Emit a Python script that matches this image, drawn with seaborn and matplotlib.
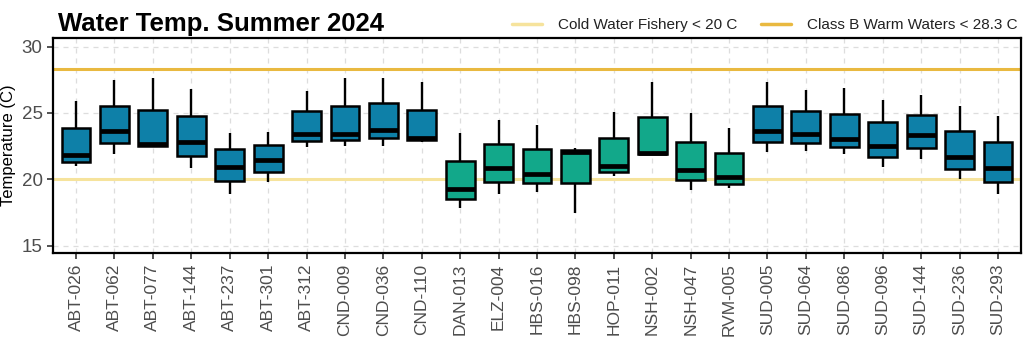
import numpy as np
import pandas as pd
import matplotlib
matplotlib.use("Agg")
import matplotlib.pyplot as plt
import seaborn as sns
from matplotlib.lines import Line2D

stations = ["ABT-026", "ABT-062", "ABT-077", "ABT-144", "ABT-237", "ABT-301", "ABT-312",
            "CND-009", "CND-036", "CND-110", "DAN-013", "ELZ-004", "HBS-016", "HBS-098",
            "HOP-011", "NSH-002", "NSH-047", "RVM-005", "SUD-005", "SUD-064", "SUD-086",
            "SUD-096", "SUD-144", "SUD-236", "SUD-293"]
groups = ["blue"] * 10 + ["green"] * 8 + ["blue"] * 7
whisker_low = [20.98, 21.93, 22.40, 20.83, 18.92, 19.83, 22.43, 22.53, 22.53, 22.81,
               17.85, 18.92, 19.03, 17.45, 20.23, 21.88, 19.23, 19.35, 22.03, 22.16,
               21.93, 20.95, 21.53, 20.03, 18.87]
q1 = [21.33, 22.73, 22.53, 21.78, 19.88, 20.55, 22.88, 22.93, 23.08, 22.93,
      18.53, 19.83, 19.70, 19.70, 20.55, 21.88, 19.93, 19.68, 22.78, 22.71,
      22.40, 21.68, 22.38, 20.78, 19.80]
median = [21.86, 23.64, 22.66, 22.81, 20.95, 21.48, 23.44, 23.41, 23.74, 23.08,
          19.30, 20.83, 20.43, 22.06, 20.98, 22.01, 20.71, 20.18, 23.61, 23.41,
          23.06, 22.51, 23.34, 21.66, 20.83]
q3 = [23.86, 25.54, 25.22, 24.81, 22.26, 22.56, 25.12, 25.54, 25.74, 25.24,
      21.41, 22.66, 22.28, 22.23, 23.08, 24.66, 22.83, 22.01, 25.52, 25.14,
      24.96, 24.29, 24.83, 23.64, 22.78]
whisker_high = [25.92, 27.45, 27.67, 26.80, 23.49, 23.59, 26.69, 27.67, 27.67, 27.37,
                23.49, 24.49, 24.06, 22.38, 25.07, 27.30, 24.99, 23.86, 27.37, 26.74,
                26.87, 25.97, 26.37, 25.54, 24.79]
thresholds = [20.0, 28.3]
threshold_labels = ["Cold Water Fishery < 20 C", "Class B Warm Waters < 28.3 C"]
threshold_colors = ["#F6E39C", "#E9B940"]
palette = {"blue": "#0E80A8", "green": "#12A88A"}

rows = []
for s, g, a, b, c, d, e in zip(stations, groups, whisker_low, q1, median, q3, whisker_high):
    for v in (a, b, c, d, e):
        rows.append({"station": s, "group": g, "temp": v})
df = pd.DataFrame(rows)

sns.set_style("white")
plt.rcParams["font.family"] = ["Liberation Sans", "DejaVu Sans"]
plt.rcParams["text.color"] = "black"

fig = plt.figure(figsize=(10.24, 3.43), dpi=100)
ax = fig.add_axes([53 / 1024, 1 - 253 / 343, (1021 - 53) / 1024, (253 - 38) / 343])

for t, col in zip(thresholds, threshold_colors):
    ax.axhline(t, color=col, lw=2.2, zorder=1.5)

sns.boxplot(data=df, x="station", y="temp", hue="group", palette=palette, order=stations,
            dodge=False, legend=False, whis=(0, 100), width=0.75, linecolor="black",
            linewidth=1.8, saturation=1, ax=ax,
            medianprops=dict(linewidth=3.4, color="black", zorder=4),
            boxprops=dict(zorder=3), whiskerprops=dict(zorder=2.5, linewidth=1.7),
            capprops=dict(linewidth=0))

ax.set_xlim(-0.6, len(stations) - 0.4)
ax.set_ylim(14.45, 30.65)
ax.set_yticks([15, 20, 25, 30])
ax.set_xlabel("")
ax.set_ylabel("Temperature (C)", fontsize=12, color="black", labelpad=4)
ax.grid(True, ls=(0, (4, 4)), color="#DDDDDD", lw=0.9)
ax.set_axisbelow(True)
for sp in ax.spines.values():
    sp.set_visible(True)
    sp.set_linewidth(1.6)
    sp.set_color("black")
ax.tick_params(axis="both", which="both", direction="out", length=4, width=1.2,
               color="#333333", labelcolor="#4D4D4D", left=True, bottom=True)
ax.tick_params(axis="x", rotation=90, labelsize=12.5)
ax.tick_params(axis="y", labelsize=13.5)

fig.text(58 / 1024, 1 - 31 / 343, "Water Temp. Summer 2024", fontsize=18.5,
         fontweight="bold", va="baseline", ha="left", color="black")

handles = [Line2D([0], [0], color=c, lw=2.5) for c in threshold_colors]
fig.legend(handles, threshold_labels, loc="center right", bbox_to_anchor=(1018 / 1024, 1 - 25 / 343),
           ncol=2, frameon=False, fontsize=11, handlelength=2.0, columnspacing=1.5,
           handletextpad=1.05, borderaxespad=0, borderpad=0, labelcolor="#222222")

fig.savefig("out.png", dpi=100)
